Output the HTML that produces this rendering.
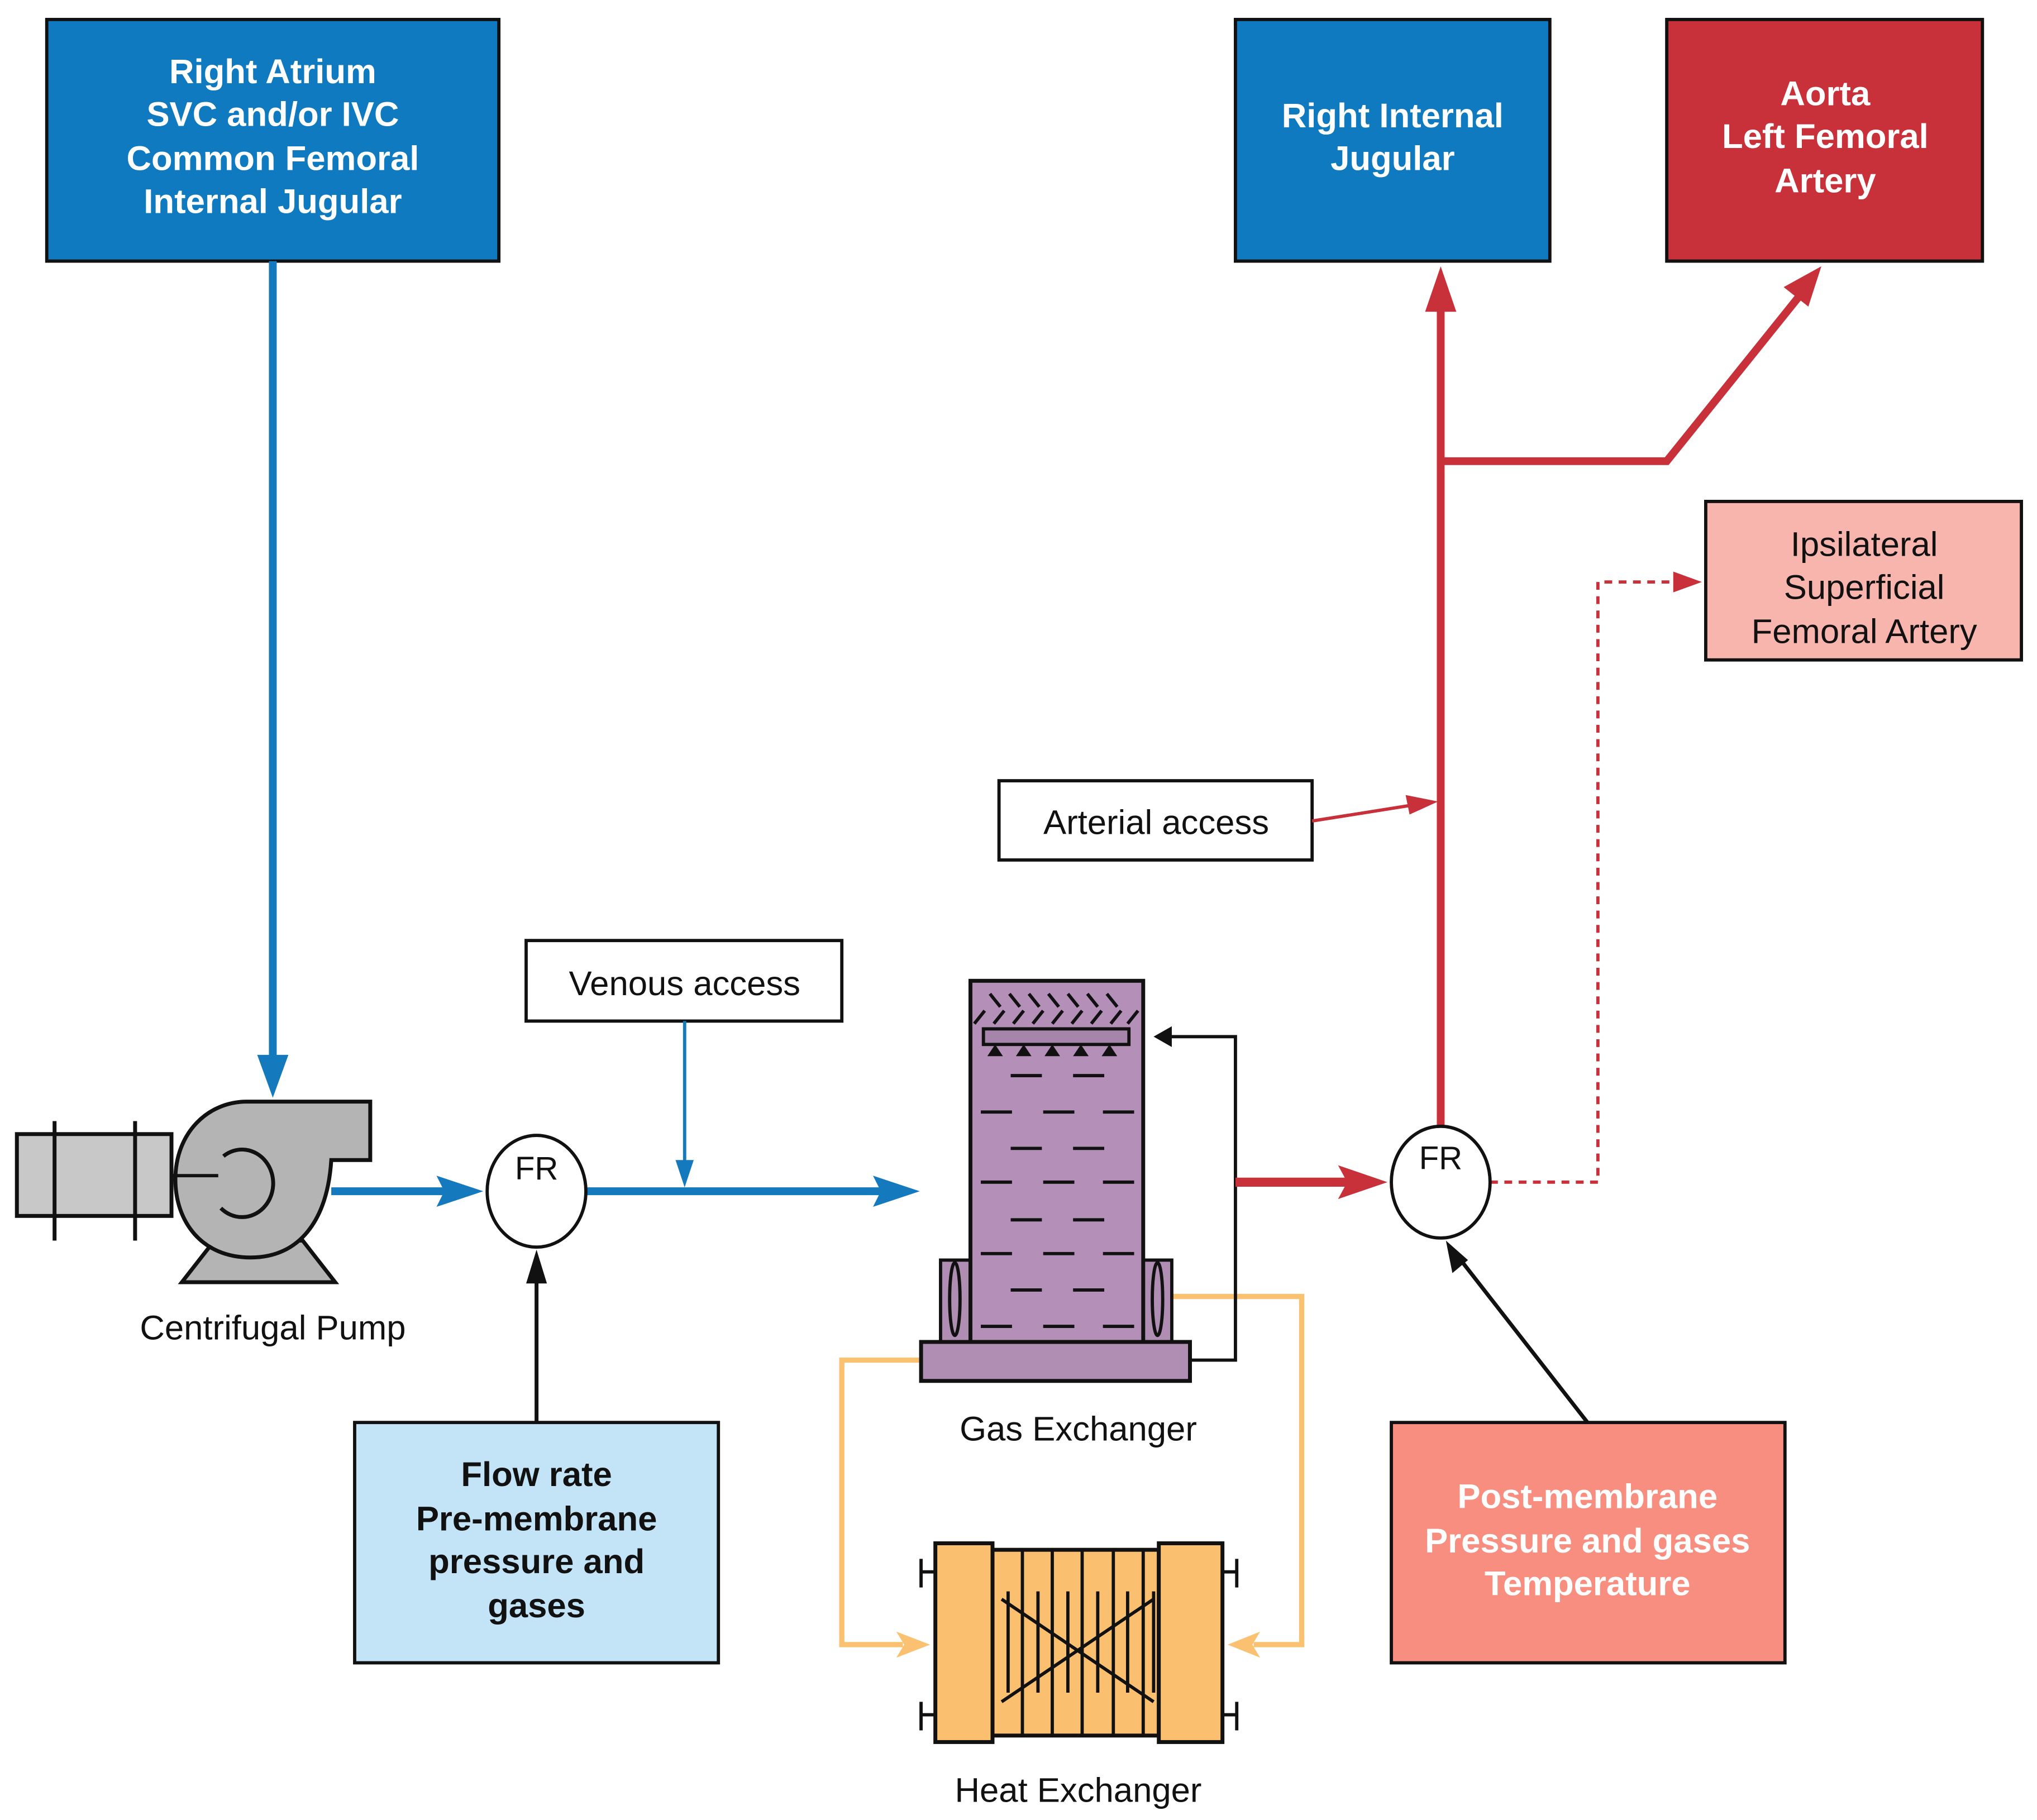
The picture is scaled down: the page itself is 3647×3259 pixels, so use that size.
<!DOCTYPE html>
<html><head><meta charset="utf-8"><style>
html,body{margin:0;padding:0;background:#fff;}
svg{display:block;}
text{font-family:"Liberation Sans",sans-serif;}
</style></head><body>
<svg width="3647" height="3259" viewBox="0 0 1568 1401" preserveAspectRatio="none" xmlns="http://www.w3.org/2000/svg">
<!-- top boxes -->
<rect x="36" y="15" width="348" height="186" fill="#0f7abf" stroke="#111" stroke-width="2.5"/>
<g fill="#fff" font-weight="bold" font-size="26.5" text-anchor="middle">
<text x="210" y="64">Right Atrium</text>
<text x="210" y="97">SVC and/or IVC</text>
<text x="210" y="131">Common  Femoral</text>
<text x="210" y="164">Internal Jugular</text>
</g>
<rect x="951" y="15" width="242" height="186" fill="#0f7abf" stroke="#111" stroke-width="2.5"/>
<g fill="#fff" font-weight="bold" font-size="26.5" text-anchor="middle">
<text x="1072" y="98">Right Internal</text>
<text x="1072" y="131">Jugular</text>
</g>
<rect x="1283" y="15" width="243" height="186" fill="#c8303a" stroke="#111" stroke-width="2.5"/>
<g fill="#fff" font-weight="bold" font-size="26.5" text-anchor="middle">
<text x="1405" y="81">Aorta</text>
<text x="1405" y="114">Left Femoral</text>
<text x="1405" y="148">Artery</text>
</g>
<rect x="1313" y="386" width="243" height="122" fill="#f8b5ae" stroke="#111" stroke-width="2.5"/>
<g fill="#111" font-size="26.5" text-anchor="middle">
<text x="1435" y="428">Ipsilateral</text>
<text x="1435" y="461">Superficial</text>
<text x="1435" y="495">Femoral Artery</text>
</g>
<rect x="769" y="601" width="241" height="61" fill="#fff" stroke="#111" stroke-width="2.5"/>
<text x="890" y="642" font-size="26.5" text-anchor="middle" fill="#111">Arterial access</text>
<rect x="405" y="724" width="243" height="62" fill="#fff" stroke="#111" stroke-width="2.5"/>
<text x="527" y="766" font-size="26.5" text-anchor="middle" fill="#111">Venous access</text>
<rect x="273" y="1095" width="280" height="185" fill="#c3e3f6" stroke="#111" stroke-width="2.5"/>
<g fill="#111" font-weight="bold" font-size="26.5" text-anchor="middle">
<text x="413" y="1144">Flow rate</text>
<text x="413" y="1178">Pre-membrane</text>
<text x="413" y="1211">pressure and</text>
<text x="413" y="1245">gases</text>
</g>
<rect x="1071" y="1095" width="303" height="185" fill="#f88e7f" stroke="#111" stroke-width="2.5"/>
<g fill="#fff" font-weight="bold" font-size="26.5" text-anchor="middle">
<text x="1222" y="1161">Post-membrane</text>
<text x="1222" y="1195">Pressure and gases</text>
<text x="1222" y="1228">Temperature</text>
</g>

<!-- blue lines -->
<line x1="210" y1="201" x2="210" y2="815" stroke="#1479bd" stroke-width="6"/>
<path d="M198,812 L222,812 L210,845z" fill="#1479bd"/>
<line x1="255" y1="917" x2="345" y2="917" stroke="#1479bd" stroke-width="6"/>
<path d="M336,905 L372,917 L336,929 L342,917z" fill="#1479bd"/>
<line x1="451" y1="917" x2="680" y2="917" stroke="#1479bd" stroke-width="6"/>
<path d="M672,905 L708,917 L672,929 L678,917z" fill="#1479bd"/>
<line x1="527" y1="786" x2="527" y2="900" stroke="#1479bd" stroke-width="2.5"/>
<path d="M520,893 L534,893 L527,914z" fill="#1479bd"/>

<!-- pump -->
<rect x="13" y="873" width="119" height="63" fill="#c8c8c8" stroke="#111" stroke-width="3"/>
<line x1="42" y1="863" x2="42" y2="955" stroke="#111" stroke-width="3"/>
<line x1="104" y1="863" x2="104" y2="955" stroke="#111" stroke-width="3"/>
<path d="M140,987 L258,987 L233,955 L165,955z" fill="#b4b4b4" stroke="#111" stroke-width="3"/>
<path d="M190,848 L285,848 L285,893 L255,893 C252,940 230,968 193,968 C155,968 135,940 135,908 C135,872 160,848 190,848z" fill="#b4b4b4" stroke="#111" stroke-width="3"/>
<line x1="132" y1="905" x2="168" y2="905" stroke="#111" stroke-width="2.5"/>
<path d="M172,890 A24,26 0 1 1 170,930" fill="none" stroke="#111" stroke-width="3"/>
<text x="210" y="1031" font-size="26.5" text-anchor="middle" fill="#111">Centrifugal Pump</text>

<!-- FR1 -->
<ellipse cx="413" cy="917" rx="38" ry="43" fill="#fff" stroke="#111" stroke-width="2.5"/>
<text x="413" y="908" font-size="25" text-anchor="middle" fill="#111">FR</text>
<line x1="413" y1="1095" x2="413" y2="985" stroke="#111" stroke-width="3"/>
<path d="M405,988 L421,988 L413,962z" fill="#111"/>

<!-- orange loops -->
<polyline points="902,998 1002,998 1002,1266 965,1266" fill="none" stroke="#f9c170" stroke-width="4"/>
<path d="M970,1256 L945,1266 L970,1276 L964,1266z" fill="#f9c170"/>
<polyline points="709,1047 648,1047 648,1266 695,1266" fill="none" stroke="#f9c170" stroke-width="4"/>
<path d="M690,1256 L716,1266 L690,1276 L696,1266z" fill="#f9c170"/>

<!-- gas exchanger -->
<rect x="724" y="970" width="23" height="63" fill="#b08eb3" stroke="#111" stroke-width="2.5"/>
<rect x="880" y="970" width="22" height="63" fill="#b08eb3" stroke="#111" stroke-width="2.5"/>
<ellipse cx="735" cy="1000" rx="4" ry="28" fill="none" stroke="#111" stroke-width="2.5"/>
<ellipse cx="891" cy="1000" rx="4" ry="28" fill="none" stroke="#111" stroke-width="2.5"/>
<rect x="747" y="755" width="133" height="278" fill="#b48fb8" stroke="#111" stroke-width="3"/>
<g stroke="#111" stroke-width="2.5">
<path d="M762,765 l8,10 M777,765 l8,10 M792,765 l8,10 M807,765 l8,10 M822,765 l8,10 M837,765 l8,10 M852,765 l8,10"/>
<path d="M750,788 l8,-10 M765,788 l8,-10 M780,788 l8,-10 M795,788 l8,-10 M810,788 l8,-10 M825,788 l8,-10 M840,788 l8,-10 M855,788 l8,-10 M868,788 l8,-10"/>
</g>
<rect x="757" y="792" width="112" height="12" fill="#a685aa" stroke="#111" stroke-width="2.5"/>
<g fill="#111"><path d="M760,813 l6,-9 6,9z M782,813 l6,-9 6,9z M804,813 l6,-9 6,9z M826,813 l6,-9 6,9z M848,813 l6,-9 6,9z"/></g>
<g stroke="#111" stroke-width="2.5">
<path d="M778,828 h24 M826,828 h24"/>
<path d="M755,856 h24 M803,856 h24 M849,856 h24"/>
<path d="M778,884 h24 M826,884 h24"/>
<path d="M755,910 h24 M803,910 h24 M849,910 h24"/>
<path d="M778,939 h24 M826,939 h24"/>
<path d="M755,965 h24 M803,965 h24 M849,965 h24"/>
<path d="M778,993 h24 M826,993 h24"/>
<path d="M755,1021 h24 M803,1021 h24 M849,1021 h24"/>
</g>
<rect x="709" y="1033" width="207" height="30" fill="#b08eb3" stroke="#111" stroke-width="3"/>
<text x="830" y="1109" font-size="26.5" text-anchor="middle" fill="#111">Gas Exchanger</text>
<polyline points="916,1047 951,1047 951,798 900,798" fill="none" stroke="#111" stroke-width="2.5"/>
<path d="M902,790 L888,798 L902,806z" fill="#111"/>

<!-- heat exchanger -->
<rect x="764" y="1193" width="128" height="143" fill="#fbc06f" stroke="#111" stroke-width="3"/>
<rect x="720" y="1188" width="44" height="153" fill="#fbc06f" stroke="#111" stroke-width="3"/>
<rect x="892" y="1188" width="49" height="153" fill="#fbc06f" stroke="#111" stroke-width="3"/>
<g stroke="#111" stroke-width="2.5">
<path d="M787,1193 v143 M810,1193 v143 M833,1193 v143 M857,1193 v143 M880,1193 v143"/>
<path d="M776,1225 v78 M799,1225 v78 M822,1225 v78 M845,1225 v78 M868,1225 v78 M888,1225 v78"/>
<path d="M771,1231 L888,1310 M771,1310 L888,1231"/>
<path d="M709,1210 h11 M709,1200 v22 M709,1320 h11 M709,1310 v22"/>
<path d="M941,1210 h11 M952,1200 v22 M941,1320 h11 M952,1310 v22"/>
</g>
<text x="830" y="1387" font-size="26.5" text-anchor="middle" fill="#111">Heat Exchanger</text>

<!-- red lines -->
<line x1="951" y1="910" x2="1040" y2="910" stroke="#c8303a" stroke-width="7"/>
<path d="M1030,897 L1068,910 L1030,923 L1037,910z" fill="#c8303a"/>
<line x1="1109" y1="866" x2="1109" y2="235" stroke="#c8303a" stroke-width="6"/>
<path d="M1097,240 L1109,205 L1121,240z" fill="#c8303a"/>
<polyline points="1109,355 1283,355 1385,228" fill="none" stroke="#c8303a" stroke-width="6"/>
<path d="M1373,221 L1402,205 L1392,236z" fill="#c8303a"/>
<line x1="1010" y1="632" x2="1092" y2="619" stroke="#c8303a" stroke-width="2.5"/>
<path d="M1082,612 L1107,617 L1085,627z" fill="#c8303a"/>
<polyline points="1147,910 1230,910 1230,448 1292,448" fill="none" stroke="#c8303a" stroke-width="2.5" stroke-dasharray="6,5"/>
<path d="M1288,440 L1310,448 L1288,456z" fill="#c8303a"/>

<!-- FR2 -->
<ellipse cx="1109" cy="910" rx="38" ry="43" fill="#fff" stroke="#111" stroke-width="2.5"/>
<text x="1109" y="900" font-size="25" text-anchor="middle" fill="#111">FR</text>
<line x1="1222" y1="1095" x2="1126" y2="972" stroke="#111" stroke-width="3"/>
<path d="M1118,980 L1130,970 L1113,955z" fill="#111"/>
</svg>
</body></html>
